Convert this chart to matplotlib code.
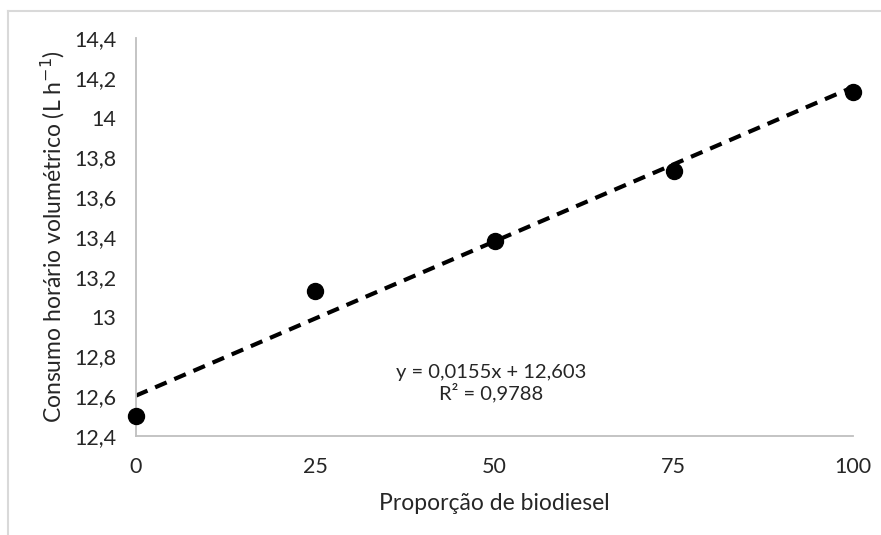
import matplotlib
matplotlib.use("Agg")
import matplotlib.pyplot as plt
from matplotlib.lines import Line2D
import numpy as np

proporcao = [0, 25, 50, 75, 100]
consumo = [12.50, 13.13, 13.38, 13.73, 14.13]
slope, intercept = 0.0155, 12.603
yticks = [12.4, 12.6, 12.8, 13.0, 13.2, 13.4, 13.6, 13.8, 14.0, 14.2, 14.4]
ytick_labels = ["12,4", "12,6", "12,8", "13", "13,2", "13,4", "13,6", "13,8", "14", "14,2", "14,4"]
xticks = [0, 25, 50, 75, 100]

plt.rcParams['font.family'] = ['Lato', 'DejaVu Sans']

fig = plt.figure(figsize=(8.81, 5.35), dpi=100)
ax = fig.add_axes([136/881, 1-436/535, (853-136)/881, (436-38)/535])

xs = np.array([0, 100])
ax.plot(xs, slope*xs + intercept, color='black', lw=3, ls=(0, (3, 2)), zorder=2)
ax.plot(proporcao, consumo, 'o', color='black', ms=11.5, zorder=3, clip_on=False)

ax.set_xlim(0, 100)
ax.set_ylim(12.4, 14.4)
ax.set_yticks(yticks)
ax.set_yticklabels(ytick_labels)
ax.set_xticks(xticks)
ax.set_xticklabels([str(x) for x in xticks])
ax.tick_params(axis='both', length=0, labelsize=15.5)
ax.tick_params(axis='x', pad=15)
ax.tick_params(axis='y', pad=14)
for s in ['top', 'right']:
    ax.spines[s].set_visible(False)
for s in ['left', 'bottom']:
    ax.spines[s].set_color('#bfbfbf')
    ax.spines[s].set_linewidth(1.3)
for lbl in ax.get_xticklabels() + ax.get_yticklabels():
    lbl.set_color('#262626')

ax.set_xlabel("Proporção de biodiesel", fontsize=16.5, color='#262626', labelpad=12)
ax.set_ylabel("Consumo horário volumétrico (L h$^{-1}$)", fontsize=16.5, color='#262626', labelpad=5)

ax.text(0.495, 0.133, "y = 0,0155x + 12,603\nR² = 0,9788", transform=ax.transAxes,
        ha='center', va='center', fontsize=14.5, color='#262626', linespacing=1.15)

# outer chart border (top and left visible)
fig.add_artist(Line2D([8/881, 1.0], [1-11/535, 1-11/535], transform=fig.transFigure, color='#d9d9d9', lw=1.5))
fig.add_artist(Line2D([8/881, 8/881], [0, 1-11/535], transform=fig.transFigure, color='#d9d9d9', lw=1.5))

fig.savefig("out.png", dpi=100)
